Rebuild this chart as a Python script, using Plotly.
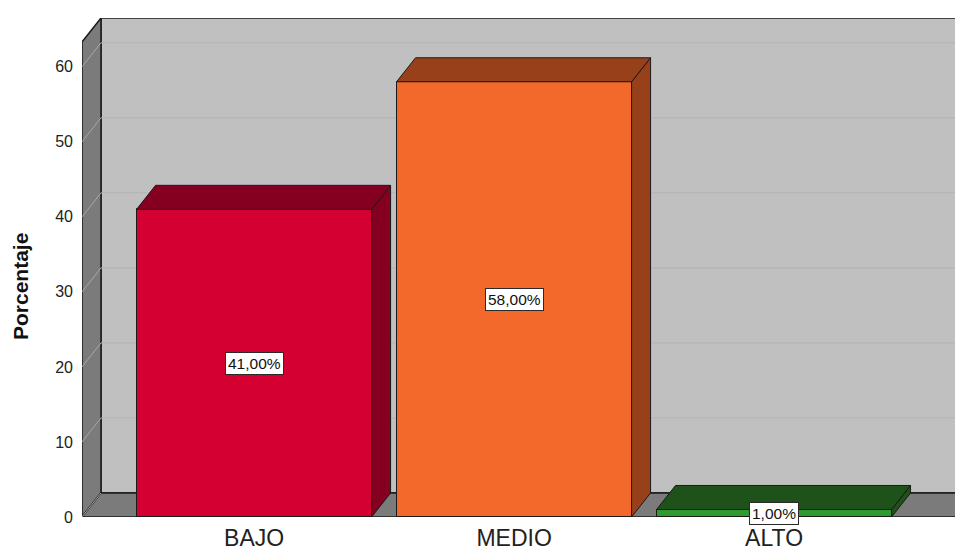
import plotly.graph_objects as go

# Percentage of respondents per level
categories = ["BAJO", "MEDIO", "ALTO"]
percentages = [41.0, 58.0, 1.0]
value_labels = ["41,00%", "58,00%", "1,00%"]
y_ticks = [0, 10, 20, 30, 40, 50, 60]

front_colors = ["#d50032", "#f3692b", "#2f9a2f"]
shade_colors = ["#850020", "#974019", "#1e521a"]

# Pseudo-3D geometry (depth offset in data units)
BAR_W = 0.904
DX = 0.073
DY = 3.2
X_MIN, X_MAX = -0.662, 2.696
Y_TOP = 66.5
WALL_TOP = Y_TOP - DY
X_FAR = X_MAX + 0.3

WALL_DARK = "#7b7b7b"
WALL_LIGHT = "#c0c0c0"
EDGE = "#1a1a1a"
FONT = "Arial, Liberation Sans"

def poly(pts):
    return "M " + " L ".join(f"{x},{y}" for x, y in pts) + " Z"

shapes = []
# back wall
shapes.append(dict(type="path", layer="below", xref="x", yref="y",
                   path=poly([(X_MIN + DX, DY), (X_FAR, DY), (X_FAR, Y_TOP), (X_MIN + DX, Y_TOP)]),
                   fillcolor=WALL_LIGHT, line=dict(color=EDGE, width=1.5)))
# left wall
shapes.append(dict(type="path", layer="below", xref="x", yref="y",
                   path=poly([(X_MIN, 0), (X_MIN + DX, DY), (X_MIN + DX, Y_TOP), (X_MIN, WALL_TOP)]),
                   fillcolor=WALL_DARK, line=dict(color=EDGE, width=1.5)))
# floor
shapes.append(dict(type="path", layer="below", xref="x", yref="y",
                   path=poly([(X_MIN, 0), (X_FAR - DX, 0), (X_FAR, DY), (X_MIN + DX, DY)]),
                   fillcolor=WALL_DARK, line=dict(color=EDGE, width=1.5)))
# gridlines on back wall and left wall
for v in y_ticks[1:]:
    shapes.append(dict(type="line", layer="below", xref="x", yref="y",
                       x0=X_MIN + DX, x1=X_FAR, y0=v + DY, y1=v + DY,
                       line=dict(color="#b3b3b3", width=1)))
    shapes.append(dict(type="line", layer="below", xref="x", yref="y",
                       x0=X_MIN, x1=X_MIN + DX, y0=v, y1=v + DY,
                       line=dict(color="#a8a8a8", width=1)))
shapes.append(dict(type="line", layer="below", xref="x", yref="y",
                   x0=X_MIN, x1=X_MIN + DX, y0=0, y1=DY,
                   line=dict(color="#a8a8a8", width=1)))

# side and top faces of each bar
for i, v in enumerate(percentages):
    xl, xr = i - BAR_W / 2, i + BAR_W / 2
    shapes.append(dict(type="path", layer="above", xref="x", yref="y",
                       path=poly([(xr, 0), (xr + DX, DY), (xr + DX, v + DY), (xr, v)]),
                       fillcolor=shade_colors[i], line=dict(color=EDGE, width=1)))
    shapes.append(dict(type="path", layer="above", xref="x", yref="y",
                       path=poly([(xl, v), (xr, v), (xr + DX, v + DY), (xl + DX, v + DY)]),
                       fillcolor=shade_colors[i], line=dict(color=EDGE, width=1)))

fig = go.Figure()
fig.add_trace(go.Bar(
    x=list(range(len(categories))), y=percentages, width=BAR_W,
    marker=dict(color=front_colors, line=dict(color=EDGE, width=1)),
    hoverinfo="skip", showlegend=False,
))

annotations = []
for i, (v, lab) in enumerate(zip(percentages, value_labels)):
    annotations.append(dict(x=i, y=v / 2, xref="x", yref="y", text=lab, showarrow=False,
                            font=dict(family=FONT, size=15.5, color="#111"),
                            bgcolor="white", bordercolor="#2a2a2a", borderwidth=1, borderpad=2))
annotations.append(dict(x=(20 - 82) / 873, y=(517 - 287) / 499, xref="paper", yref="paper",
                        xanchor="center", yanchor="middle",
                        text="<b>Porcentaje</b>", textangle=-90, showarrow=False,
                        font=dict(family=FONT, size=21, color="#111")))

fig.update_layout(
    width=955, height=552,
    margin=dict(l=82, r=0, t=18, b=35),
    paper_bgcolor="white", plot_bgcolor="white",
    shapes=shapes, annotations=annotations,
    bargap=0,
    xaxis=dict(range=[X_MIN, X_MAX], tickvals=list(range(len(categories))), ticktext=categories,
               showgrid=False, zeroline=False, showline=False, ticks="",
               ticklabelstandoff=5,
               tickfont=dict(family=FONT, size=23, color="#222")),
    yaxis=dict(range=[0, Y_TOP], tickvals=y_ticks, ticktext=[str(t) for t in y_ticks],
               showgrid=False, zeroline=False, showline=False, ticks="",
               ticklabelstandoff=8,
               tickfont=dict(family=FONT, size=16, color="#222")),
)

fig.write_html("out.html")
